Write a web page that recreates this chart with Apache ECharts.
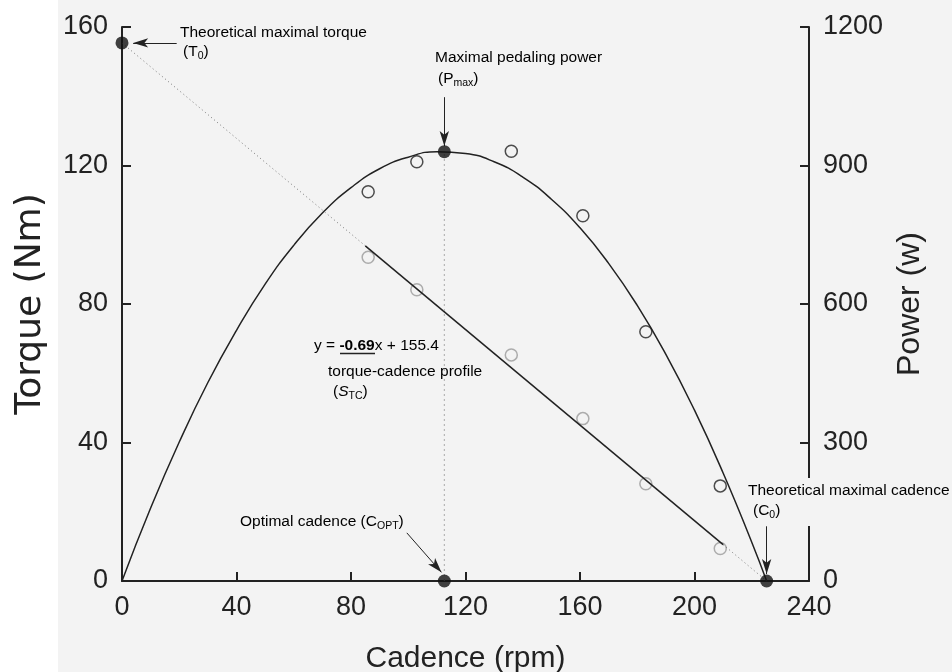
<!DOCTYPE html>
<html>
<head>
<meta charset="utf-8">
<script src="https://cdn.jsdelivr.net/npm/echarts@6/dist/echarts.min.js"></script>
<style>
  html, body { margin: 0; padding: 0; background: #f3f3f3; }
  #chart { width: 952px; height: 672px; }
</style>
</head>
<body>
<div id="chart"></div>
<script>
// measured points (open circles)
var cadence = [86, 103, 136, 161, 183, 209];
var torque = [93.5, 84.1, 65.3, 46.9, 28.1, 9.4];
var power = [843, 908, 931, 791, 540, 206];

// power curve
var fitCadence = [0, 10, 20, 30, 40, 50, 60, 70, 80, 90, 100, 110, 120, 130, 140, 150, 160, 170, 180, 190, 200, 210, 220, 225.2];
var fitPower = [0, 158, 301, 430, 543, 643, 727, 797, 852, 893, 918, 930, 926, 908, 875, 827, 765, 688, 597, 491, 370, 234, 84, 0];

// torque-cadence line: dotted ends, solid middle
var trendCadence = [0, 85, 210, 225.2];
var trendTorque = [155.4, 96.8, 10.5, 0];

// key points
var t0 = [0, 155.4];
var pmax = [112.6, 930];
var copt = [112.6, 0];
var c0 = [225.2, 0];

// arrows, [from, to] in data units
var torqueArrows = [
  [[19.1, 155.4], [3.9, 155.4]],
  [[99.5, 13.9], [111.6, 2.5]],
  [[225.2, 15.8], [225.2, 2.0]]
];
var powerArrows = [
  [[112.6, 1048], [112.6, 942]]
];

var BG = '#f3f3f3';
var INK = '#222';
var FONT = 'Liberation Sans, Arial, sans-serif';

function pairs(xs, ys) {
  return xs.map(function (x, i) { return [x, ys[i]]; });
}

function arrowLine(list) {
  return {
    silent: true,
    symbol: ['none', 'arrow'],
    symbolSize: [7, 15],
    label: { show: false },
    lineStyle: { color: INK, width: 1, type: 'solid' },
    emphasis: { disabled: true },
    data: list.map(function (a) {
      return [{ coord: a[0] }, { coord: a[1] }];
    })
  };
}

var rich = {
  n: { fontFamily: FONT, fontSize: 15.5, color: INK, lineHeight: 20 },
  b: { fontFamily: FONT, fontSize: 15.5, color: INK, lineHeight: 20, fontWeight: 'bold' },
  i: { fontFamily: FONT, fontSize: 15.5, color: INK, lineHeight: 20, fontStyle: 'italic' },
  s: { fontFamily: FONT, fontSize: 10.5, color: INK, lineHeight: 11, verticalAlign: 'bottom' }
};

var notes = [
  [180, 33, '{n|Theoretical maximal torque}'],
  [183, 52, '{n|(T}{s|0}{n|)}'],
  [435, 58, '{n|Maximal pedaling power}'],
  [438, 79, '{n|(P}{s|max}{n|)}'],
  [314, 346, '{n|y = }{b|-0.69}{n|x + 155.4}'],
  [328, 372, '{n|torque-cadence profile}'],
  [333, 392, '{n|(}{i|S}{s|TC}{n|)}'],
  [240, 522, '{n|Optimal cadence (C}{s|OPT}{n|)}'],
  [748, 491, '{n|Theoretical maximal cadence}'],
  [753, 511, '{n|(C}{s|0}{n|)}']
];

var graphics = [
  { type: 'rect', z: -10, shape: { x: 0, y: 0, width: 58, height: 672 }, style: { fill: '#fff' } },
  { type: 'rect', z: 50, shape: { x: 803, y: 478, width: 13, height: 48 }, style: { fill: BG } },
  { type: 'line', z: 60, shape: { x1: 340, y1: 353.5, x2: 375, y2: 353.5 }, style: { stroke: INK, lineWidth: 1.5 } }
];
notes.forEach(function (t) {
  graphics.push({
    type: 'text', z: 60, x: t[0], y: t[1],
    style: { text: t[2], rich: rich, align: 'left', verticalAlign: 'middle' }
  });
});

var axisLine = { show: true, lineStyle: { color: INK, width: 2 } };
var axisTick = { show: true, inside: true, length: 9, lineStyle: { color: INK, width: 2 } };
var tickLabel = { color: INK, fontSize: 27, fontFamily: FONT, formatter: function (v) { return String(v); } };

var chart = echarts.init(document.getElementById('chart'));
chart.setOption({
  backgroundColor: BG,
  animation: false,
  grid: { left: 122, right: 143, top: 27, bottom: 91, outerBoundsMode: 'none', containLabel: false },
  xAxis: {
    type: 'value', min: 0, max: 240, interval: 40,
    axisLine: axisLine, axisTick: axisTick,
    axisLabel: Object.assign({ margin: 13 }, tickLabel),
    splitLine: { show: false },
    name: 'Cadence (rpm)', nameLocation: 'middle', nameGap: 63,
    nameTextStyle: { color: INK, fontSize: 30, fontFamily: FONT }
  },
  yAxis: [{
    type: 'value', min: 0, max: 160, interval: 40, position: 'left',
    axisLine: axisLine, axisTick: axisTick,
    axisLabel: Object.assign({ margin: 14 }, tickLabel),
    splitLine: { show: false },
    name: 'Torque (Nm)', nameLocation: 'middle', nameGap: 73, nameRotate: 90,
    nameTextStyle: { color: INK, fontSize: 36, fontFamily: 'DejaVu Sans' }
  }, {
    type: 'value', min: 0, max: 1200, interval: 300, position: 'right',
    axisLine: axisLine, axisTick: axisTick,
    axisLabel: Object.assign({ margin: 14 }, tickLabel),
    splitLine: { show: false },
    name: 'Power (w)', nameLocation: 'middle', nameGap: 78, nameRotate: 90,
    nameTextStyle: { color: INK, fontSize: 32, fontFamily: FONT }
  }],
  graphic: graphics,
  series: [{
    type: 'line', yAxisIndex: 1, smooth: true, showSymbol: false, silent: true,
    data: pairs(fitCadence, fitPower),
    lineStyle: { color: INK, width: 1.5 }
  }, {
    type: 'line', yAxisIndex: 0, showSymbol: false, silent: true,
    data: pairs(trendCadence.slice(0, 2), trendTorque.slice(0, 2)),
    lineStyle: { color: '#777', width: 1, type: [1, 3] }
  }, {
    type: 'line', yAxisIndex: 0, showSymbol: false, silent: true,
    data: pairs(trendCadence.slice(2), trendTorque.slice(2)),
    lineStyle: { color: '#777', width: 1, type: [1, 3] }
  }, {
    type: 'line', yAxisIndex: 0, showSymbol: false, silent: true,
    data: pairs(trendCadence.slice(1, 3), trendTorque.slice(1, 3)),
    lineStyle: { color: INK, width: 1.5 }
  }, {
    type: 'line', yAxisIndex: 1, showSymbol: false, silent: true,
    data: [copt.slice(), pmax.slice()],
    lineStyle: { color: '#aaa', width: 1, type: [2, 3] }
  }, {
    type: 'scatter', yAxisIndex: 0, symbol: 'circle', symbolSize: 12, silent: true,
    data: pairs(cadence, torque),
    itemStyle: { color: 'rgba(0,0,0,0)', borderColor: '#9a9a9a', borderWidth: 1.5 }
  }, {
    type: 'scatter', yAxisIndex: 1, symbol: 'circle', symbolSize: 12, silent: true,
    data: pairs(cadence, power),
    itemStyle: { color: 'rgba(0,0,0,0)', borderColor: INK, borderWidth: 1.5 }
  }, {
    type: 'scatter', yAxisIndex: 0, symbol: 'circle', symbolSize: 13, silent: true, clip: false, z: 5,
    data: [t0, copt, c0],
    itemStyle: { color: '#111' },
    markLine: arrowLine(torqueArrows)
  }, {
    type: 'scatter', yAxisIndex: 1, symbol: 'circle', symbolSize: 13, silent: true, clip: false, z: 5,
    data: [pmax],
    itemStyle: { color: '#111' },
    markLine: arrowLine(powerArrows)
  }]
});
</script>
</body>
</html>
